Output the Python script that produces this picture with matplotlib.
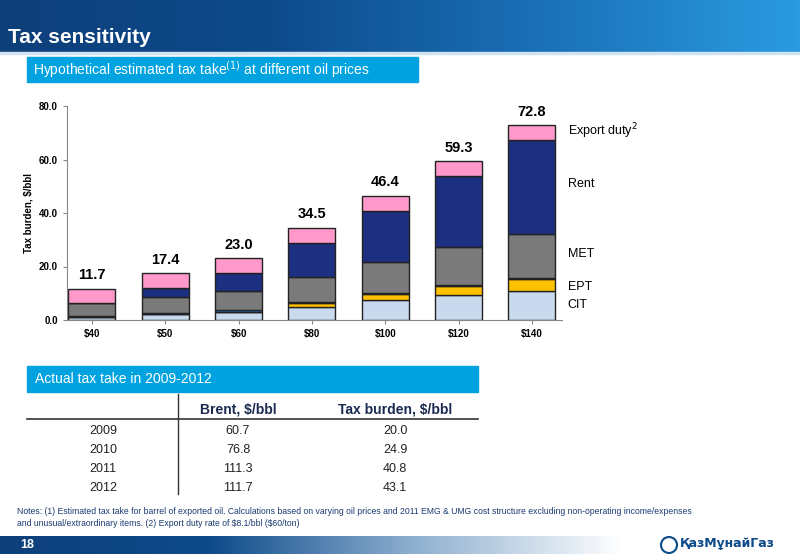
import matplotlib
matplotlib.use("Agg")
import matplotlib.pyplot as plt
import numpy as np
from matplotlib.patches import Rectangle
from matplotlib.colors import LinearSegmentedColormap

categories = ["$40", "$50", "$60", "$80", "$100", "$120", "$140"]
cit = [1.0, 2.2, 3.0, 5.0, 7.5, 9.2, 10.9]
ept = [0.0, 0.0, 0.0, 1.2, 2.2, 3.5, 4.3]
other = [0.5, 0.5, 0.6, 0.5, 0.3, 0.5, 0.6]
met = [4.8, 5.8, 7.1, 9.2, 11.6, 14.2, 16.3]
rent = [0.0, 3.3, 6.7, 13.0, 19.1, 26.3, 35.1]
export = [5.4, 5.6, 5.6, 5.6, 5.7, 5.6, 5.6]
totals = [11.7, 17.4, 23.0, 34.5, 46.4, 59.3, 72.8]
yticks = [0, 20, 40, 60, 80]

years = ["2009", "2010", "2011", "2012"]
brent = ["60.7", "76.8", "111.3", "111.7"]
burden = ["20.0", "24.9", "40.8", "43.1"]

W, H = 800, 554
fig = plt.figure(figsize=(8, 5.54), dpi=100)
plt.rcParams['font.family'] = ['Liberation Sans', 'DejaVu Sans']

def fx(x): return x / W
def fy(y): return 1 - y / H

bg = fig.add_axes([0, 0, 1, 1]); bg.set_xlim(0, W); bg.set_ylim(H, 0); bg.axis('off')
grad = np.linspace(0, 1, 256).reshape(1, -1)
hcm = LinearSegmentedColormap.from_list('h', ['#0d3f7a', '#0d4a8a', '#1a6fb5', '#2a9be0'])
bg.imshow(grad, extent=[0, W, 52, 0], cmap=hcm, aspect='auto', zorder=0)
bg.add_patch(Rectangle((0, 52), W, 2, color='#cfe3f3', zorder=1))
bg.text(8, 43, "Tax sensitivity", color='white', fontsize=15, fontweight='bold', va='baseline')
bg.add_patch(Rectangle((27, 57), 391, 25, color='#00a3e0', zorder=1))
bg.text(33, 70, "Hypothetical estimated tax take$^{(1)}$ at different oil prices", color='white', fontsize=10, va='center', zorder=2)
bg.add_patch(Rectangle((27, 366), 451, 26, color='#00a3e0', zorder=1))
bg.text(35, 379, "Actual tax take in 2009-2012", color='white', fontsize=10, va='center', zorder=2)
bg.plot([178, 178], [394, 494], color='#333333', lw=1)
bg.plot([27, 478], [419, 419], color='#333333', lw=1.2)
bg.text(238, 410, "Brent, $/bbl", fontsize=10, fontweight='bold', ha='center', va='center', color='#1a2a50')
bg.text(395, 410, "Tax burden, $/bbl", fontsize=10, fontweight='bold', ha='center', va='center', color='#1a2a50')
for i, (yr, b, t) in enumerate(zip(years, brent, burden)):
    yy = 431 + i * 19
    bg.text(103, yy, yr, fontsize=9, ha='center', va='center', color='#222')
    bg.text(238, yy, b, fontsize=9, ha='center', va='center', color='#222')
    bg.text(395, yy, t, fontsize=9, ha='center', va='center', color='#222')
bg.text(17, 511, "Notes: (1) Estimated tax take for barrel of exported oil. Calculations based on varying oil prices and 2011 EMG & UMG cost structure excluding non-operating income/expenses",
        fontsize=6.2, va='center', color='#1a3a70')
bg.text(17, 523, "and unusual/extraordinary items. (2) Export duty rate of \\$8.1/bbl (\\$60/ton)", fontsize=6.2, va='center', color='#1a3a70')
fcm = LinearSegmentedColormap.from_list('f', ['#0d3f7a', '#0d4a8a', '#8fb0d0', '#ffffff'])
fgrad = np.concatenate([np.linspace(0, 1, 200), np.ones(56)]).reshape(1, -1)
bg.imshow(fgrad, extent=[0, W, H, 536], cmap=fcm, aspect='auto', zorder=0)
bg.text(20, 545, "18", color='white', fontsize=9, fontweight='bold', va='center')
bg.add_patch(plt.Circle((669, 545), 8, facecolor='white', edgecolor='#0d4a8a', lw=1.5, zorder=2))
bg.text(680, 543, "ҚазМұнайГаз", color='#0d4a8a', fontsize=9, fontweight='bold', va='center', family=['DejaVu Sans'])

ax = fig.add_axes([fx(67), fy(320), fx(562 - 67), fy(106) - fy(320)])
x = np.arange(len(categories))
w = 0.64
series = [(cit, '#c9d9ee'), (ept, '#ffc000'), (other, '#1f78c8'), (met, '#7a7a7a'), (rent, '#1c2f80'), (export, '#ff99cc')]
bottom = np.zeros(len(x))
for vals, col in series:
    v = np.array(vals)
    ax.bar(x, v, w, bottom=bottom, color=col, edgecolor='#222222', linewidth=1)
    bottom += v
for xi, t in zip(x, totals):
    ax.text(xi, t + 2.5, f"{t:.1f}", ha='center', va='bottom', fontsize=10.5, fontweight='bold')
ax.set_xlim(-0.34, 6.41)
ax.set_ylim(0, 80)
ax.set_yticks(yticks)
ax.set_yticklabels([f"{v:.1f}" for v in yticks], fontsize=7, fontweight='bold')
ax.set_xticks(x)
ax.set_xticklabels(categories, fontsize=7, fontweight='bold')
ax.spines['top'].set_visible(False); ax.spines['right'].set_visible(False)
ax.spines['left'].set_color('#888'); ax.spines['bottom'].set_color('#888')
ax.tick_params(length=3, colors='#888', labelcolor='black')
ax.set_ylabel("Tax burden, $/bbl", fontsize=7, fontweight='bold')
for lbl, yv in [("Export duty$^2$", 70.5), ("Rent", 51), ("MET", 24.5), ("EPT", 12.5), ("CIT", 5.5)]:
    ax.text(6.49, yv, lbl, fontsize=9, va='center', clip_on=False)
fig.savefig("out.png", dpi=100)
